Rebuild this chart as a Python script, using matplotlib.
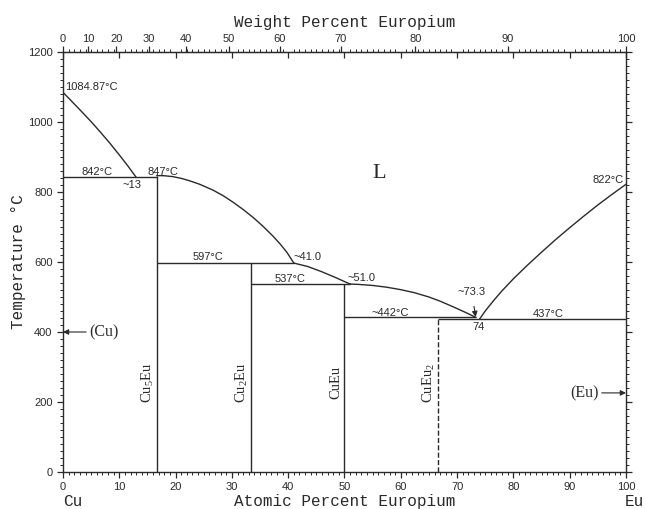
import numpy as np
import matplotlib
matplotlib.use("Agg")
import matplotlib.pyplot as plt
from matplotlib.ticker import MultipleLocator

# atomic masses for the weight-percent scale
M_CU = 63.546
M_EU = 151.964

# liquidus branches (at.% Eu, temperature degC)
liq_cu_x = [0, 1.5, 3.3, 5, 6.6, 8.3, 10, 11.5, 13]
liq_cu_t = [1084.87, 1060, 1030, 1001, 972, 940, 906, 875, 842]
liq_cu5eu_x = [16.67, 18, 19.5, 21, 22.5, 24.3, 26.7, 28.5, 30.2, 32, 33.8, 35.6, 37.3, 38.6, 39.8, 41.0]
liq_cu5eu_t = [847, 846.5, 844, 839, 832, 822, 805, 789, 771, 750, 727, 701, 674, 651, 627, 597]
liq_cu2eu_x = [41.0, 43.5, 46, 48.5, 51.0]
liq_cu2eu_t = [597, 587, 572, 555, 537]
liq_cueu_x = [51.0, 52.5, 55, 57.5, 60, 62.5, 65, 67, 69.3, 71.5, 73.3]
liq_cueu_t = [537, 536, 533, 528, 521, 512, 500, 488, 472, 456, 442]
liq_eu_x = [74, 75, 76.5, 78, 80, 82.5, 85, 87.5, 90, 92.5, 95, 97.5, 100]
liq_eu_t = [437, 460, 490, 518, 552, 591, 628, 664, 698, 731, 763, 793, 822]

# invariant lines: (x start, x end, temperature)
iso_x0 = [0, 16.67, 33.33, 50, 66.67]
iso_x1 = [16.67, 41.0, 51.0, 73.3, 100]
iso_t = [842, 597, 537, 442, 437]

# compounds: composition, top temperature, label, dashed
cmp_x = [16.67, 33.33, 50, 66.67]
cmp_t = [847, 597, 537, 440]
cmp_lbl = [r"$\mathregular{Cu_5Eu}$", r"$\mathregular{Cu_2Eu}$", "CuEu", r"$\mathregular{CuEu_2}$"]
cmp_dash = [False, False, False, True]

wt_ticks = list(range(0, 101, 10))


def at2wt(a):
    a = np.asarray(a, dtype=float)
    return 100 * a * M_EU / (a * M_EU + (100 - a) * M_CU)


def wt2at(w):
    w = np.asarray(w, dtype=float)
    return 100 * (w / M_EU) / (w / M_EU + (100 - w) / M_CU)


lc = "#2a2a2a"
sans = "Liberation Sans"
serif = "Liberation Serif"
mono = "Liberation Mono"

fig = plt.figure(figsize=(6.46, 5.09), dpi=100)
ax = fig.add_axes([0.0975, 0.0727, 0.8715, 0.8251])
ax.set_xlim(0, 100)
ax.set_ylim(0, 1200)

for xs, ts in [(liq_cu_x, liq_cu_t), (liq_cu5eu_x, liq_cu5eu_t), (liq_cu2eu_x, liq_cu2eu_t),
               (liq_cueu_x, liq_cueu_t), (liq_eu_x, liq_eu_t)]:
    ax.plot(xs, ts, color=lc, lw=1.0, solid_joinstyle="round")

ax.hlines(iso_t, iso_x0, iso_x1, color=lc, lw=1.0)
for x, t, lbl, d in zip(cmp_x, cmp_t, cmp_lbl, cmp_dash):
    ax.vlines(x, 0, t, color=lc, lw=1.0, linestyles="--" if d else "-")
    ax.text(x - 1.6, 255, lbl, rotation=90, ha="center", va="center",
            family=serif, fontsize=10.5, color=lc)

# temperature annotations
tk = dict(family=sans, fontsize=8, color=lc)
ax.text(0.4, 1100, "1084.87°C", ha="left", va="center", **tk)
ax.text(6.0, 857, "842°C", ha="center", va="center", **tk)
ax.text(17.8, 857, "847°C", ha="center", va="center", **tk)
ax.text(12.2, 820, "~13", ha="center", va="center", **tk)
ax.text(25.8, 614, "597°C", ha="center", va="center", **tk)
ax.text(41.0, 614, "~41.0", ha="left", va="center", **tk)
ax.text(40.3, 551, "537°C", ha="center", va="center", **tk)
ax.text(50.6, 554, "~51.0", ha="left", va="center", **tk)
ax.text(58.1, 454, "~442°C", ha="center", va="center", **tk)
ax.text(86.2, 451, "437°C", ha="center", va="center", **tk)
ax.text(73.8, 414, "74", ha="center", va="center", **tk)
ax.text(99.6, 834, "822°C", ha="right", va="center", **tk)
ax.annotate("~73.3", xy=(73.3, 443), xytext=(72.6, 515), ha="center", va="center",
            arrowprops=dict(arrowstyle="-|>", color=lc, lw=0.8, shrinkA=5, shrinkB=0,
                            mutation_scale=8), **tk)
ax.text(56.1, 854, "L", ha="center", va="center", family=serif, fontsize=16, color=lc)

ax.annotate("(Cu)", xy=(0, 400), xytext=(4.6, 400), ha="left", va="center",
            family=serif, fontsize=11.5, color=lc,
            arrowprops=dict(arrowstyle="-|>", color=lc, lw=0.8, shrinkA=0, shrinkB=0,
                            mutation_scale=8))
ax.annotate("(Eu)", xy=(100, 226), xytext=(95.2, 226), ha="right", va="center",
            family=serif, fontsize=11.5, color=lc,
            arrowprops=dict(arrowstyle="-|>", color=lc, lw=0.8, shrinkA=0, shrinkB=0,
                            mutation_scale=8))

# ticks
ax.xaxis.set_major_locator(MultipleLocator(10))
ax.xaxis.set_minor_locator(MultipleLocator(1))
ax.yaxis.set_major_locator(MultipleLocator(200))
ax.yaxis.set_minor_locator(MultipleLocator(20))
ax.tick_params(axis="both", which="both", direction="out", colors=lc, labelsize=8)
ax.tick_params(axis="y", which="both", left=True, right=True)
ax.tick_params(axis="x", which="both", bottom=True, top=False)
ax.tick_params(which="major", length=4, width=0.9)
ax.tick_params(which="minor", length=2, width=0.7)
for lab in ax.get_xticklabels() + ax.get_yticklabels():
    lab.set_family(sans)
for s in ax.spines.values():
    s.set_linewidth(1.0)
    s.set_color(lc)

axt = ax.twiny()
axt.set_xlim(0, 100)
axt.xaxis.set_major_locator(MultipleLocator(10))
axt.xaxis.set_minor_locator(MultipleLocator(1))
axt.tick_params(axis="x", which="major", direction="in", length=4, width=0.9, labeltop=False, colors=lc)
axt.tick_params(axis="x", which="minor", direction="out", length=2, width=0.7, colors=lc)
for s in axt.spines.values():
    s.set_visible(False)

sec = ax.secondary_xaxis("top", functions=(at2wt, wt2at))
sec.set_xticks(wt_ticks)
sec.tick_params(direction="out", length=4, width=0.9, labelsize=8, colors=lc, pad=2)
for lab in sec.get_xticklabels():
    lab.set_family(sans)
sec.set_xlabel("Weight Percent Europium", family=mono, fontsize=11.5, color=lc, labelpad=5)

ax.set_xlabel("Atomic Percent Europium", family=mono, fontsize=11.5, color=lc, labelpad=1)
ax.set_ylabel("Temperature °C", family=mono, fontsize=11.5, color=lc, labelpad=1.5)
fig.text(63 / 646, 3 / 509, "Cu", family=mono, fontsize=11.5, color=lc, ha="left", va="baseline")
fig.text(625 / 646, 3 / 509, "Eu", family=mono, fontsize=11.5, color=lc, ha="left", va="baseline")

fig.savefig("out.png", dpi=100)
